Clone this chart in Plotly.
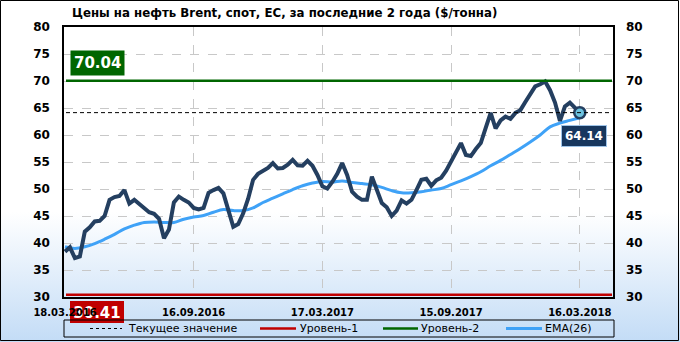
import base64
import pandas as pd
import plotly.graph_objects as go

# ---------------- data ----------------
start_date = "2016-03-18"
n_weeks = 105
dates = list(pd.date_range(start_date, periods=n_weeks, freq="7D"))

price = [38.4, 39.2, 37.2, 37.5, 42.1, 42.9, 44.0, 44.1, 45.0, 48.0,
         48.5, 48.7, 49.8, 47.3, 48.0, 47.2, 46.3, 45.7, 45.4, 44.5,
         40.9, 42.5, 47.5, 48.6, 48.0, 47.5, 46.5, 46.2, 46.5, 49.3,
         49.8, 50.2, 49.2, 46.0, 43.0, 43.5, 45.5, 48.2, 51.7, 52.8,
         53.4, 53.9, 54.8, 53.8, 53.9, 54.5, 55.4, 54.4, 54.3, 55.2,
         54.3, 52.6, 50.5, 50.1, 51.3, 52.8, 54.8, 52.6, 49.5, 48.6,
         48.0, 48.0, 52.3, 49.8, 47.4, 46.6, 45.0, 46.0, 47.9, 47.3,
         48.0, 49.8, 51.7, 51.9, 50.6, 51.6, 52.1, 53.4, 55.1, 56.6,
         58.5, 56.3, 56.1, 57.4, 58.5, 61.3, 64.1, 61.2, 62.7, 63.4,
         63.0, 64.1, 64.6, 66.1, 67.5, 69.0, 69.4, 69.9, 68.3, 66.0,
         62.6, 65.3, 66.0, 65.1, 64.14]

ema_dates = dates[::2]
ema = [39.3, 39.0, 39.3, 39.9, 40.7, 41.6, 42.6, 43.3, 43.8, 43.9,
       43.8, 43.8, 44.4, 44.8, 45.1, 45.7, 46.2, 46.0, 46.0, 46.5,
       47.5, 48.3, 49.1, 49.9, 50.6, 51.1, 51.4, 51.3, 51.5, 51.2,
       51.0, 50.8, 50.3, 49.7, 49.3, 49.3, 49.5, 49.8, 50.1, 50.8,
       51.5, 52.3, 53.2, 54.3, 55.3, 56.4, 57.5, 58.7, 60.0, 61.5,
       62.2, 62.7, 63.2]

current_value = 64.14
level1 = 30.41
level2 = 70.04

tick_dates = ["2016-03-18", "2016-09-16", "2017-03-17", "2017-09-15", "2018-03-16"]
tick_text = ["18.03.2016", "16.09.2016", "17.03.2017", "15.09.2017", "16.03.2018"]

title = "Цены на нефть Brent, спот, ЕС, за последние 2 года ($/тонна)"
legend_names = ["Текущее значение", "Уровень-1", "Уровень-2", "EMA(26)"]

# ---------------- style ----------------
W, H = 680, 342
L, R, T, B = 64, 613, 27, 297
PW, PH = R - L, B - T
NAVY = "#243f60"
BLUE = "#3fa2f7"
GREEN = "#006600"
RED = "#c00000"
FONT = "DejaVu Sans"


def px(x):
    return (x - L) / PW


def py(y):
    return (B - y) / PH


svg = (f'<svg xmlns="http://www.w3.org/2000/svg" width="{W}" height="{H}" preserveAspectRatio="none">'
       '<defs><linearGradient id="g" x1="0" y1="0" x2="0" y2="1">'
       '<stop offset="0" stop-color="#ffffff"/><stop offset="0.62" stop-color="#ffffff"/>'
       '<stop offset="1" stop-color="#c3dcf6"/></linearGradient></defs>'
       f'<rect width="{W}" height="{H}" fill="url(#g)"/></svg>')
bg_src = "data:image/svg+xml;base64," + base64.b64encode(svg.encode()).decode()

fig = go.Figure()

fig.add_trace(go.Scatter(x=ema_dates, y=ema, mode="lines",
                         line=dict(color=BLUE, width=3, shape="spline"),
                         showlegend=False, hoverinfo="skip"))
fig.add_trace(go.Scatter(x=dates, y=price, mode="lines",
                         line=dict(color=NAVY, width=4),
                         showlegend=False, hoverinfo="skip"))
fig.add_trace(go.Scatter(x=[dates[-1]], y=[current_value], mode="markers",
                         marker=dict(size=11, color="#6cc3e0", line=dict(color=NAVY, width=2.5)),
                         showlegend=False, hoverinfo="skip"))
# invisible trace for right axis
fig.add_trace(go.Scatter(x=[dates[0]], y=[current_value], yaxis="y2", mode="markers",
                         marker=dict(opacity=0), showlegend=False, hoverinfo="skip"))

DASH = "4px,3px"
shapes = []
# level lines
shapes.append(dict(type="line", xref="paper", yref="y", x0=px(66), x1=px(612),
                   y0=current_value, y1=current_value, line=dict(color="black", width=1, dash=DASH)))
shapes.append(dict(type="line", xref="paper", yref="y", x0=px(66), x1=px(612),
                   y0=level2, y1=level2, line=dict(color=GREEN, width=2.5)))
shapes.append(dict(type="line", xref="paper", yref="y", x0=px(66), x1=px(612),
                   y0=level1, y1=level1, line=dict(color=RED, width=2.5)))
# level-1 label box drawn below the tick labels
shapes.append(dict(type="rect", xref="paper", yref="paper", x0=px(70), x1=px(124),
                   y0=py(301), y1=py(323), fillcolor=RED, line=dict(width=0), layer="below",
                   label=dict(text="<b>%.2f</b>" % level1, textposition="middle center",
                              font=dict(family=FONT, size=15, color="white"))))
# outer border
shapes.append(dict(type="rect", xref="paper", yref="paper", x0=px(0.5), x1=px(W - 1.5),
                   y0=py(0.5), y1=py(H - 1.5), line=dict(color="black", width=1), layer="above"))
# legend box
shapes.append(dict(type="rect", xref="paper", yref="paper", x0=px(64), x1=px(614),
                   y0=py(320), y1=py(337), line=dict(color="black", width=1)))
leg_y = py(328.5)
shapes.append(dict(type="line", xref="paper", yref="paper", x0=px(90), x1=px(122), y0=leg_y, y1=leg_y,
                   line=dict(color="black", width=1, dash="3px,3px")))
shapes.append(dict(type="line", xref="paper", yref="paper", x0=px(260), x1=px(296), y0=leg_y, y1=leg_y,
                   line=dict(color=RED, width=2.5)))
shapes.append(dict(type="line", xref="paper", yref="paper", x0=px(383), x1=px(418), y0=leg_y, y1=leg_y,
                   line=dict(color=GREEN, width=2.5)))
shapes.append(dict(type="line", xref="paper", yref="paper", x0=px(506), x1=px(542), y0=leg_y, y1=leg_y,
                   line=dict(color=BLUE, width=3)))

annotations = []
for name, xl in zip(legend_names, [126, 298, 419, 543]):
    annotations.append(dict(xref="paper", yref="paper", x=px(xl), y=leg_y, text=name,
                            showarrow=False, xanchor="left", yanchor="middle",
                            font=dict(family=FONT, size=11, color="black")))
annotations.append(dict(xref="paper", yref="paper", x=px(70), y=py(13), text="<b>" + title + "</b>",
                        showarrow=False, xanchor="left", yanchor="middle",
                        font=dict(family=FONT, size=11.8, color="black")))
annotations.append(dict(xref="paper", yref="paper", x=px(97.5), y=py(63), text="<b>%.2f</b>" % level2,
                        showarrow=False, xanchor="center", yanchor="middle", bgcolor=GREEN,
                        borderpad=3, font=dict(family=FONT, size=15, color="white")))
annotations.append(dict(xref="paper", yref="paper", x=px(583.5), y=py(135.5), text="<b>%.2f</b>" % current_value,
                        showarrow=False, xanchor="center", yanchor="middle", bgcolor="#17375e",
                        bordercolor="#9fc4e8", borderwidth=1, borderpad=3,
                        font=dict(family=FONT, size=12, color="white")))

images = [dict(source=bg_src, xref="paper", yref="paper", x=px(0), y=py(0),
               sizex=W / PW, sizey=H / PH, xanchor="left", yanchor="top",
               sizing="stretch", layer="below")]

grid = dict(showgrid=True, gridcolor="#c8c8c8", griddash="dash", gridwidth=1)
fig.update_layout(
    width=W, height=H,
    margin=dict(l=L, r=W - R, t=T, b=H - B),
    paper_bgcolor="white", plot_bgcolor="rgba(0,0,0,0)",
    images=images, shapes=shapes, annotations=annotations,
    font=dict(family=FONT, color="black"),
    xaxis=dict(type="date", range=["2016-03-16 14:00", "2018-05-02"],
               tickvals=tick_dates, ticktext=["<b>%s</b>" % t for t in tick_text],
               tickfont=dict(size=10), ticks="", ticklabelstandoff=5,
               showline=True, linecolor="black", linewidth=1.5, mirror=True,
               zeroline=False, **grid),
    yaxis=dict(range=[30, 80], dtick=5, tickfont=dict(size=12),
               tickvals=list(range(30, 81, 5)), ticktext=["<b>%d</b>" % v for v in range(30, 81, 5)],
               ticks="", ticklabelstandoff=10,
               showline=True, linecolor="black", linewidth=1.5, mirror=True,
               zeroline=False, **grid),
    yaxis2=dict(range=[30, 80], overlaying="y", side="right", showgrid=False,
                tickvals=list(range(30, 81, 5)), ticktext=["<b>%d</b>" % v for v in range(30, 81, 5)],
                tickfont=dict(size=12), ticks="", ticklabelstandoff=12, zeroline=False),
    showlegend=False,
)

fig.write_html("out.html")
